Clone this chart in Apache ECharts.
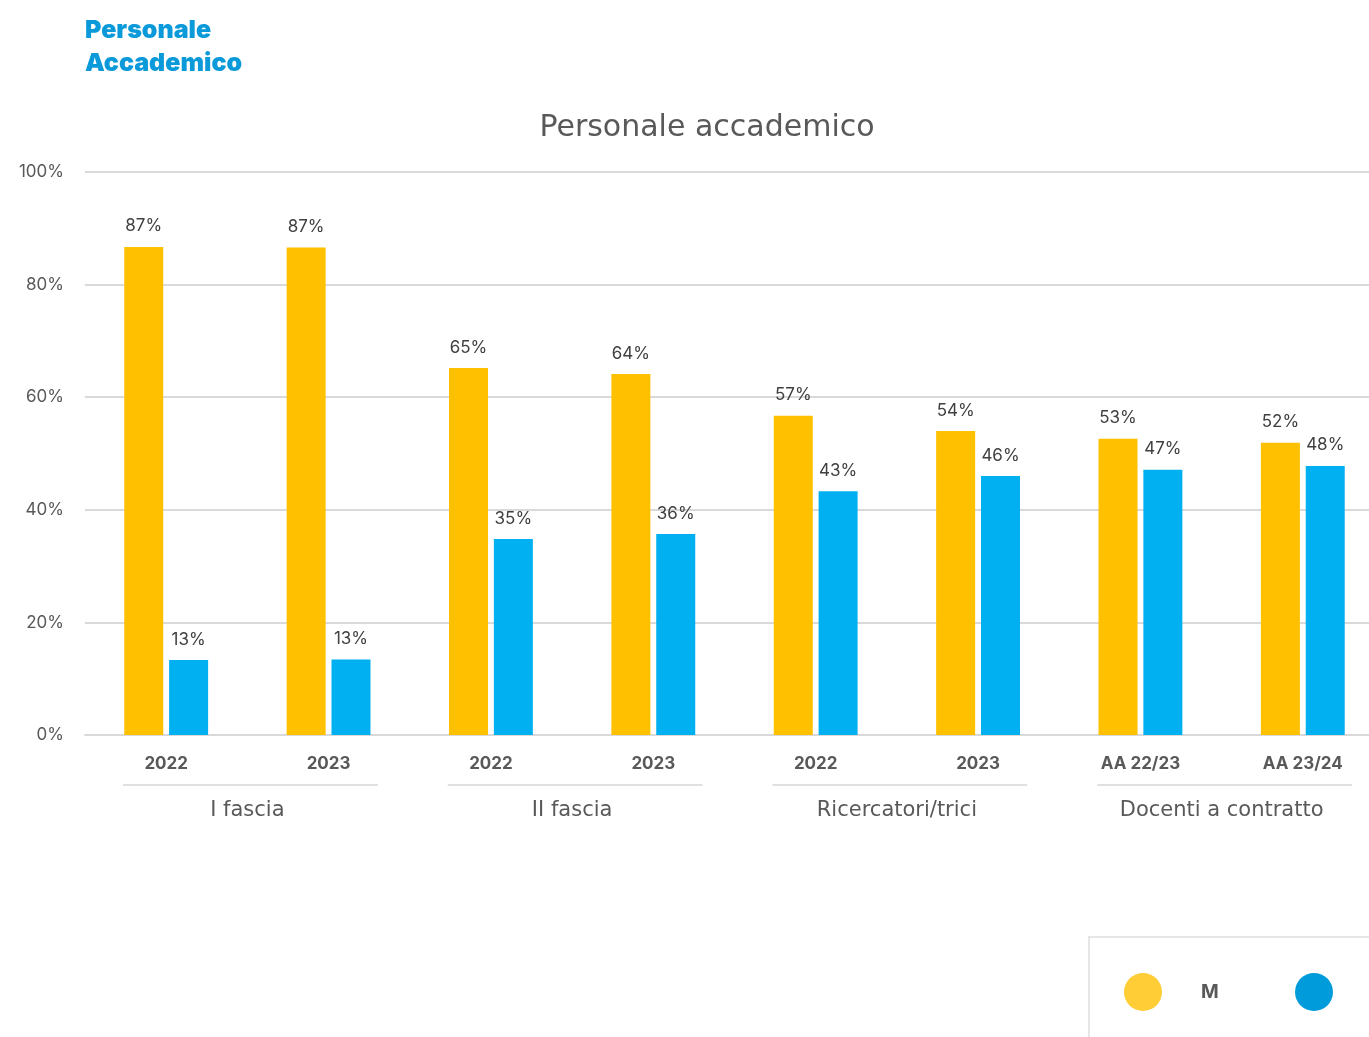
<!DOCTYPE html>
<html>
<head>
<meta charset="utf-8">
<title>Personale accademico</title>
<script src="https://cdn.jsdelivr.net/npm/echarts@6/dist/echarts.min.js"></script>
<style>
  html, body { margin: 0; padding: 0; background: #ffffff; overflow: hidden; }
  #chart { width: 1384px; height: 1037px; }
</style>
</head>
<body>
<div id="chart"></div>
<script>
// Year / academic-year labels on the lower axis
const periods = ['2022', '2023', '2022', '2023', '2022', '2023', 'AA 22/23', 'AA 23/24'];
// Staff groups, each covering two periods
const groups = ['I fascia', 'II fascia', 'Ricercatori/trici', 'Docenti a contratto'];
// Share of men and women (%)
const maleShare = [86.7, 86.6, 65.2, 64.1, 56.7, 54.0, 52.6, 51.9];
const femaleShare = [13.3, 13.4, 34.8, 35.7, 43.3, 46.0, 47.1, 47.8];
const yTicks = { min: 0, max: 100, interval: 20 };

const FONT = 'Inter, "Open Sans", sans-serif';
const WIDE = '"DejaVu Sans", sans-serif';
const chart = echarts.init(document.getElementById('chart'));

const valueLabel = {
  show: true,
  position: 'top',
  distance: 12,
  fontFamily: FONT,
  fontSize: 17,
  color: '#404040',
  formatter: p => Math.round(p.value) + '%'
};

const legendText = { fontFamily: FONT, fontSize: 19, fontWeight: 'bold', color: '#595959', padding: [0, 0, 0, 34] };

chart.setOption({
  animation: false,
  title: [{
    text: 'Personale\nAccademico',
    left: 85,
    top: 14,
    padding: 0,
    textStyle: { fontFamily: FONT, fontSize: 25, fontWeight: 900, color: '#0a9ad9', lineHeight: 33 }
  }, {
    text: 'Personale accademico',
    left: 702,
    textAlign: 'center',
    top: 108,
    textStyle: { fontFamily: WIDE, fontSize: 30, fontWeight: 'normal', color: '#595959' }
  }],
  grid: { left: 85, right: 0, top: 172, bottom: 302, containLabel: false },
  legend: [{
    left: 1119,
    top: 968,
    icon: 'circle',
    itemWidth: 38,
    itemHeight: 38,
    textStyle: legendText,
    data: [{ name: 'M', itemStyle: { color: '#ffcd35' } }]
  }, {
    left: 1290,
    top: 968,
    icon: 'circle',
    itemWidth: 38,
    itemHeight: 38,
    textStyle: legendText,
    data: [{ name: 'F', itemStyle: { color: '#009bda' } }]
  }],
  xAxis: [{
    type: 'category',
    data: periods,
    position: 'bottom',
    axisLine: { show: true, lineStyle: { color: '#d9d9d9', width: 2 } },
    axisTick: { show: false },
    axisLabel: { margin: 20, fontFamily: FONT, fontSize: 17, fontWeight: 'bold', color: '#595959' }
  }, {
    type: 'category',
    data: groups,
    position: 'bottom',
    offset: 55,
    axisLine: { show: false },
    axisTick: { show: false },
    axisLabel: { margin: 10, fontFamily: WIDE, fontSize: 21, color: '#595959' }
  }],
  yAxis: {
    type: 'value',
    min: yTicks.min,
    max: yTicks.max,
    interval: yTicks.interval,
    axisLine: { show: false },
    axisTick: { show: false },
    axisLabel: { margin: 21, fontFamily: FONT, fontSize: 17, color: '#595959', formatter: '{value}%' },
    splitLine: { lineStyle: { color: '#d9d9d9', width: 2 } }
  },
  series: [{
    name: 'M',
    type: 'bar',
    data: maleShare,
    barWidth: 39,
    barGap: '15%',
    itemStyle: { color: '#ffc000' },
    label: valueLabel
  }, {
    name: 'F',
    type: 'bar',
    data: femaleShare,
    barWidth: 39,
    itemStyle: { color: '#00b0f0' },
    label: valueLabel
  }]
});

// Legend frame and group underlines, placed from the axis scale
const frame = {
  type: 'rect',
  shape: { x: 1089, y: 937, width: 400, height: 200 },
  style: { fill: 'none', stroke: '#e6e6e6', lineWidth: 2 },
  z: -1
};
const half = (chart.convertToPixel({ xAxisIndex: 0 }, 1) - chart.convertToPixel({ xAxisIndex: 0 }, 0)) / 2;
const lines = groups.map((g, i) => {
  const a = chart.convertToPixel({ xAxisIndex: 0 }, i * 2) - half + 38;
  const b = chart.convertToPixel({ xAxisIndex: 0 }, i * 2 + 1) + half - 32;
  return {
    type: 'line',
    shape: { x1: a, y1: 785, x2: b, y2: 785 },
    style: { stroke: '#e0e0e0', lineWidth: 2 }
  };
});
chart.setOption({ graphic: [frame].concat(lines) });
</script>
</body>
</html>
